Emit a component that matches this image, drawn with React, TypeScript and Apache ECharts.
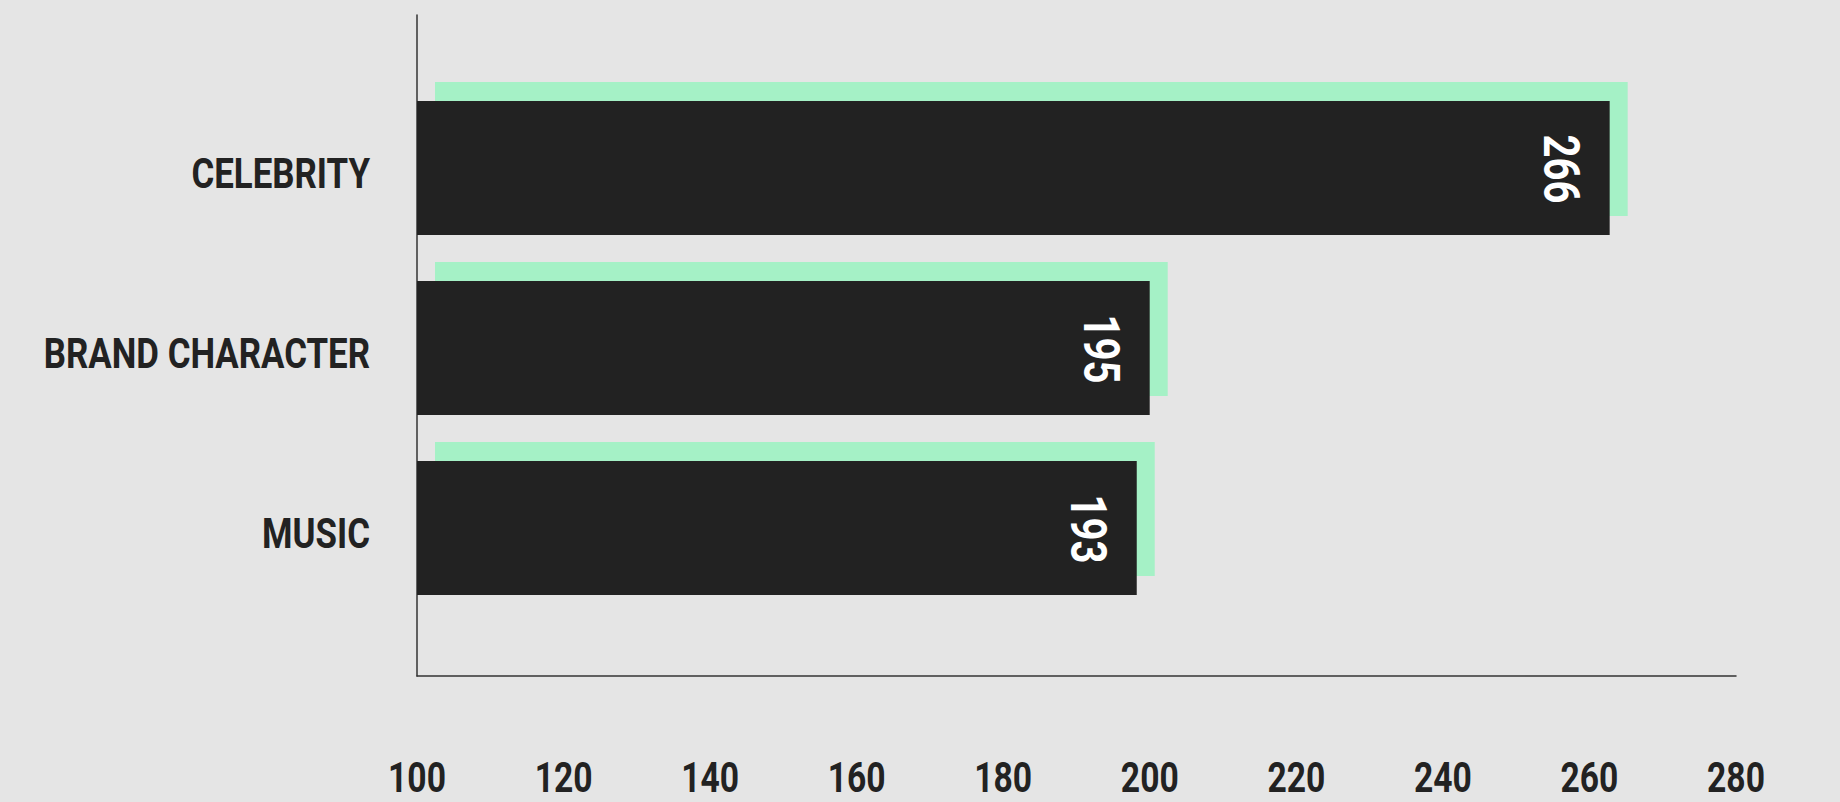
import React, { useEffect, useRef } from "react";
import * as echarts from "echarts";

const categories = ["CELEBRITY", "BRAND CHARACTER", "MUSIC"];
const values = [266, 195, 193];
const axisMin = 100;
const axisMax = 280;
const axisStep = 20;
// hidden scale used by the bars
const barScaleMin = 81.9;
const barScaleMax = 285.5;

const FONT = "Roboto, 'Liberation Sans', sans-serif";
const DARK = "#222222";
const GREEN = "#a5f1c6";
const BG = "#e5e5e5";

function textEl(text: string, x: number, y: number, size: number, fill: string, align: string, squeeze: number, extra: any = {}) {
  return {
    type: "text",
    x,
    y,
    z: 100,
    scaleX: squeeze,
    silent: true,
    ...extra,
    style: {
      text,
      font: `bold ${size}px ${FONT}`,
      fill,
      align,
      verticalAlign: "middle",
      textAlign: align,
      textVerticalAlign: "middle",
    },
  };
}

export default function App() {
  const ref = useRef<HTMLDivElement>(null);
  useEffect(() => {
    if (!ref.current) return;
    const chart = echarts.init(ref.current, undefined, { renderer: "svg" });
    chart.setOption({
      animation: false,
      backgroundColor: BG,
      grid: [
        { left: 417, width: 1319, top: 15, bottom: 126, outerBoundsMode: "none", containLabel: false },
        { left: 417, width: 1319, top: 78, height: 540, outerBoundsMode: "none", containLabel: false },
        { left: 435, width: 1319, top: 59, height: 540, outerBoundsMode: "none", containLabel: false },
      ],
      xAxis: [
        {
          gridIndex: 0,
          type: "value",
          min: axisMin,
          max: axisMax,
          interval: axisStep,
          axisLine: { show: true, lineStyle: { color: "#333", width: 1.5 } },
          axisTick: { show: false },
          splitLine: { show: false },
          axisLabel: { show: false },
        },
        { gridIndex: 1, type: "value", min: barScaleMin, max: barScaleMax, show: false },
        { gridIndex: 2, type: "value", min: barScaleMin, max: barScaleMax, show: false },
      ],
      yAxis: [
        {
          gridIndex: 0,
          type: "value",
          min: 0,
          max: 1,
          axisLine: { show: true, lineStyle: { color: "#333", width: 1.5 } },
          axisTick: { show: false },
          axisLabel: { show: false },
          splitLine: { show: false },
        },
        {
          gridIndex: 1,
          type: "category",
          data: categories,
          inverse: true,
          axisLine: { show: false },
          axisTick: { show: false },
          splitLine: { show: false },
          axisLabel: { show: false },
        },
        {
          gridIndex: 2,
          type: "category",
          data: categories,
          inverse: true,
          show: false,
        },
      ],
      series: [
        {
          type: "bar",
          xAxisIndex: 2,
          yAxisIndex: 2,
          data: values,
          barWidth: 134,
          z: 1,
          itemStyle: { color: GREEN },
          silent: true,
        },
        {
          type: "bar",
          xAxisIndex: 1,
          yAxisIndex: 1,
          data: values,
          barWidth: 134,
          z: 3,
          itemStyle: { color: DARK },
        },
      ],
    });

    const axisY = chart.convertToPixel({ yAxisIndex: 0 }, 0) as number;
    const axisX = chart.convertToPixel({ xAxisIndex: 0 }, axisMin) as number;
    const elements: any[] = [];
    for (let v = axisMin; v <= axisMax; v += axisStep) {
      const x = chart.convertToPixel({ xAxisIndex: 0 }, v) as number;
      elements.push(textEl(String(v), x, axisY + 102, 42, DARK, "center", 0.8));
    }
    categories.forEach((c, i) => {
      const y = chart.convertToPixel({ yAxisIndex: 1 }, i) as number;
      elements.push(textEl(c, axisX - 47, y + 5, 42, DARK, "right", 0.83));
      const bx = chart.convertToPixel({ xAxisIndex: 1 }, values[i]) as number;
      elements.push(
        textEl(String(values[i]), bx - 49, y + 1, 50, "#ffffff", "center", 0.8, { rotation: -Math.PI / 2 })
      );
    });
    chart.setOption({ graphic: { elements } });

    return () => chart.dispose();
  }, []);
  return (
    <div
      ref={ref}
      style={{ position: "absolute", left: 0, top: 0, width: 1840, height: 802, background: BG }}
    />
  );
}
